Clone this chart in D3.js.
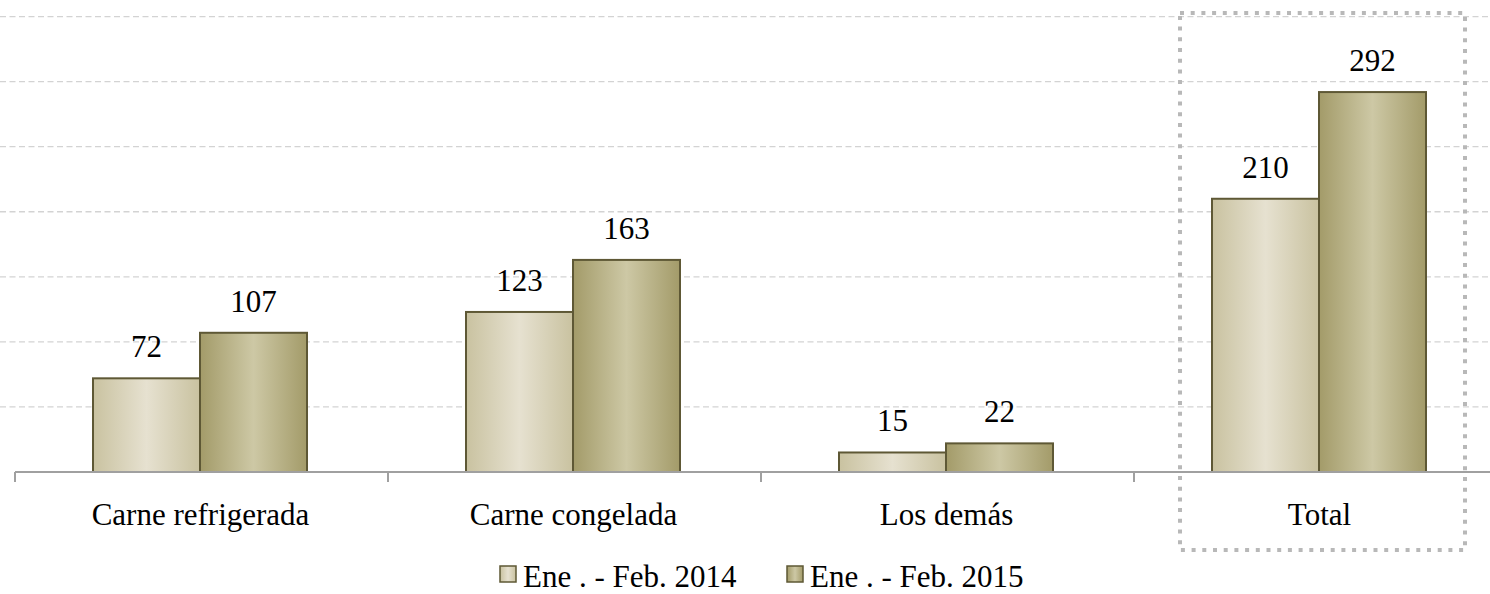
<!DOCTYPE html>
<html>
<head>
<meta charset="utf-8">
<script src="https://cdn.jsdelivr.net/npm/d3@7/dist/d3.min.js"></script>
<style>
  body { margin: 0; background: #fff; }
</style>
</head>
<body>
<div id="chart"></div>
<script>
// data
const categories = ["Carne refrigerada", "Carne congelada", "Los demás", "Total"];
const series = ["Ene . - Feb. 2014", "Ene . - Feb. 2015"];
const values2014 = [72, 123, 15, 210];
const values2015 = [107, 163, 22, 292];
const yTicks = [0, 50, 100, 150, 200, 250, 300, 350];

const W = 1490, H = 594;
const fontSize = 31;
const serif = "'Liberation Serif', 'Times New Roman', Times, 'DejaVu Serif', serif";

const svg = d3.select("#chart").append("svg")
    .attr("width", W)
    .attr("height", H)
    .attr("font-family", serif);

// scales
const x = d3.scaleBand().domain(categories).range([15, 1507]);
const xs = d3.scaleBand().domain(series).range([0, 214]);
const y = d3.scaleLinear().domain([0, 350]).range([472, 16.6]);

// gradients for the bars (lighter in the middle)
const defs = svg.append("defs");
const gradStops = [
    ["#c9c2a0", "#e6e1d0"],
    ["#a39b69", "#cdc8a5"]
];
gradStops.forEach(function(c, i) {
    let g = defs.append("linearGradient")
        .attr("id", "grad" + i)
        .attr("x1", "0%").attr("x2", "100%")
        .attr("y1", "0%").attr("y2", "0%");
    g.append("stop").attr("offset", "0%").attr("stop-color", c[0]);
    g.append("stop").attr("offset", "50%").attr("stop-color", c[1]);
    g.append("stop").attr("offset", "100%").attr("stop-color", c[0]);
});

// dashed grid lines
svg.append("g")
    .selectAll("line")
    .data(yTicks.slice(1))
    .enter().append("line")
    .attr("x1", 0)
    .attr("x2", W)
    .attr("y1", d => y(d))
    .attr("y2", d => y(d))
    .style("stroke", "#d3d3d3")
    .style("stroke-width", 1.3)
    .style("stroke-dasharray", "6,3.5");

// dotted box round the Total column
svg.append("rect")
    .attr("x", 1180)
    .attr("y", 13)
    .attr("width", 285)
    .attr("height", 537)
    .style("fill", "none")
    .style("stroke", "#b8b8b8")
    .style("stroke-width", 4)
    .style("stroke-dasharray", "4,6.7");

// bars
const rows = categories.map((c, i) => ({ cat: c, vals: [values2014[i], values2015[i]] }));
const groupOffset = (x.bandwidth() - 214) / 2 - 1.5;

const groups = svg.append("g")
    .selectAll("g")
    .data(rows)
    .enter().append("g")
    .attr("transform", d => "translate(" + (x(d.cat) + groupOffset) + ",0)");

groups.selectAll("rect")
    .data(d => d.vals.map((v, j) => ({ s: series[j], v: v, j: j })))
    .enter().append("rect")
    .attr("x", d => xs(d.s))
    .attr("y", d => y(d.v))
    .attr("width", xs.bandwidth())
    .attr("height", d => y(0) - y(d.v))
    .style("fill", d => "url(#grad" + d.j + ")")
    .style("stroke", "#5e5835")
    .style("stroke-width", 2);

// value labels
groups.selectAll("text")
    .data(d => d.vals.map((v, j) => ({ s: series[j], v: v })))
    .enter().append("text")
    .attr("x", d => xs(d.s) + xs.bandwidth() / 2)
    .attr("y", d => y(d.v) - 21)
    .attr("text-anchor", "middle")
    .style("font-size", fontSize + "px")
    .text(d => d.v);

// x axis baseline and ticks
const axis = svg.append("g");
axis.append("line")
    .attr("x1", 15).attr("x2", W)
    .attr("y1", y(0)).attr("y2", y(0))
    .style("stroke", "#a0a0a0")
    .style("stroke-width", 2);
axis.selectAll(".tick")
    .data(categories.concat(["end"]))
    .enter().append("line")
    .attr("class", "tick")
    .attr("x1", (d, i) => 15 + i * x.step())
    .attr("x2", (d, i) => 15 + i * x.step())
    .attr("y1", y(0))
    .attr("y2", y(0) + 10)
    .style("stroke", "#a0a0a0")
    .style("stroke-width", 2);
axis.selectAll(".cat")
    .data(categories)
    .enter().append("text")
    .attr("class", "cat")
    .attr("x", d => x(d) + x.bandwidth() / 2 - 1)
    .attr("y", 525)
    .attr("text-anchor", "middle")
    .style("font-size", fontSize + "px")
    .text(d => d);

// legend
const legendX = [500, 787];
const legend = svg.append("g")
    .selectAll("g")
    .data(series)
    .enter().append("g")
    .attr("transform", (d, i) => "translate(" + legendX[i] + ",0)");
legend.append("rect")
    .attr("x", 0)
    .attr("y", 566)
    .attr("width", 16)
    .attr("height", 16)
    .style("fill", (d, i) => "url(#grad" + i + ")")
    .style("stroke", "#5e5835")
    .style("stroke-width", 1.5);
legend.append("text")
    .attr("x", 23)
    .attr("y", 587)
    .style("font-size", fontSize + "px")
    .text(d => d);
</script>
</body>
</html>
